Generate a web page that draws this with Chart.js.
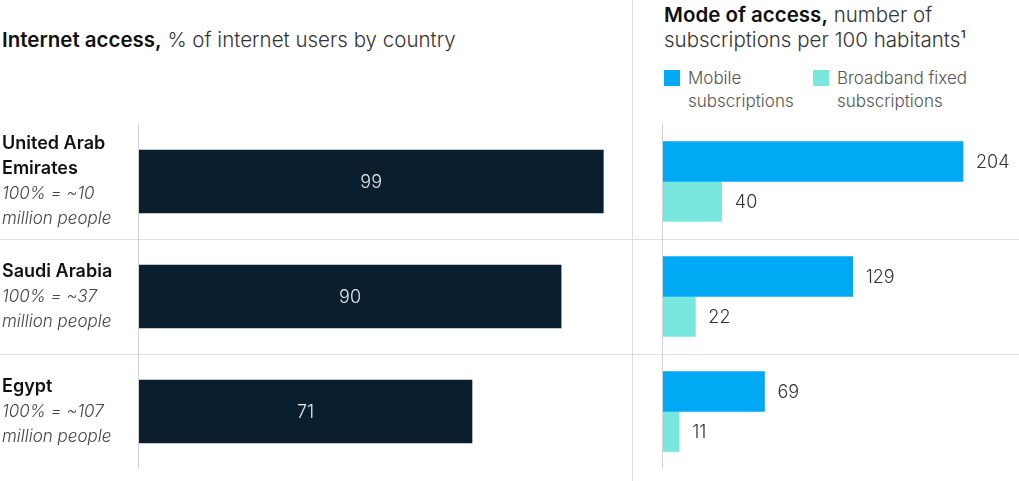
<!DOCTYPE html>
<html>
<head>
<meta charset="utf-8">
<script src="https://cdn.jsdelivr.net/npm/chart.js@4.4.1/dist/chart.umd.min.js"></script>
<style>
  html, body { margin: 0; padding: 0; background: #fff; }
  body {
    width: 1019px; height: 481px; position: relative; overflow: hidden;
    font-family: Inter, "Liberation Sans", Arial, sans-serif; color: #333;
  }
  .title { position: absolute; font-size: 20.5px; line-height: 25px; color: #333; white-space: nowrap; font-weight: 300; }
  .title b { color: #111; font-weight: 600; }
  #titleLeft { left: 2px; top: 27px; }
  #titleRight { left: 664px; top: 2px; }
  .divider { position: absolute; left: 632px; top: 0; width: 1px; height: 481px; background: #dcdcdc; }
  .legend { position: absolute; top: 67px; font-size: 17px; line-height: 23px; color: #555; font-weight: 300; white-space: nowrap; }
  .legend span.sw { position: absolute; left: 0; top: 3px; width: 16px; height: 16px; }
  .legend div { padding-left: 24px; }
  canvas { position: absolute; top: 124px; }
  #chartLeft { left: 0; }
  #chartRight { left: 633px; }
</style>
</head>
<body>
<div class="title" id="titleLeft"><b>Internet access,</b> % of internet users by country</div>
<div class="title" id="titleRight"><b>Mode of access,</b> number of<br>subscriptions per 100 habitants¹</div>
<div class="divider"></div>
<div id="legend"></div>
<canvas id="chartLeft" width="633" height="346"></canvas>
<canvas id="chartRight" width="386" height="346"></canvas>
<script>
(function () {
  const countryNames = [["United Arab", "Emirates"], ["Saudi Arabia"], ["Egypt"]];
  const populationNotes = ["~10", "~37", "~107"];
  const internetShare = [99, 90, 71];
  const mobileSubs = [204, 129, 69];
  const broadbandSubs = [40, 22, 11];
  const seriesNames = [["Mobile", "subscriptions"], ["Broadband fixed", "subscriptions"]];
  const seriesColors = ["#00a9f4", "#78e8df"];

  const lineColor = "#dedede";
  const axisColor = "#d2d2d2";
  const font = 'Inter, "Liberation Sans", Arial, sans-serif';

  // legend (html)
  const legendEl = document.getElementById("legend");
  const legendLeft = [664, 813];
  seriesNames.forEach((lines, i) => {
    const item = document.createElement("div");
    item.className = "legend";
    item.style.left = legendLeft[i] + "px";
    item.innerHTML = '<span class="sw" style="background:' + seriesColors[i] + '"></span><div>' + lines.join("<br>") + "</div>";
    legendEl.appendChild(item);
  });

  // row separators + axis line
  const rowLines = {
    id: "rowLines",
    beforeDatasetsDraw(chart) {
      const { ctx, chartArea } = chart;
      const y = chart.scales.y;
      ctx.save();
      ctx.strokeStyle = lineColor;
      ctx.lineWidth = 1;
      for (let i = 0; i < y.ticks.length - 1; i++) {
        const py = Math.round((y.getPixelForValue(i) + y.getPixelForValue(i + 1)) / 2) + 0.5;
        ctx.beginPath();
        ctx.moveTo(0, py);
        ctx.lineTo(chart.width, py);
        ctx.stroke();
      }
      ctx.strokeStyle = axisColor;
      ctx.beginPath();
      ctx.moveTo(chartArea.left - 0.5, chartArea.top);
      ctx.lineTo(chartArea.left - 0.5, chartArea.bottom);
      ctx.stroke();
      ctx.restore();
    },
  };

  // country labels on the left
  const countryLabels = {
    id: "countryLabels",
    afterDatasetsDraw(chart) {
      const { ctx } = chart;
      const y = chart.scales.y;
      ctx.save();
      ctx.textBaseline = "middle";
      ctx.textAlign = "left";
      countryNames.forEach((nameLines, i) => {
        const lines = nameLines.map((t) => ({ t, bold: true }))
          .concat([{ t: "100% = " + populationNotes[i], bold: false }, { t: "million people", bold: false }]);
        const cy = y.getPixelForValue(i);
        lines.forEach((ln, k) => {
          const py = cy + (k - (lines.length - 1) / 2) * 25;
          ctx.font = ln.bold ? "600 18px " + font : "italic 300 17px " + font;
          ctx.fillStyle = ln.bold ? "#111" : "#444";
          ctx.fillText(ln.t, 2, py);
        });
      });
      ctx.restore();
    },
  };

  // value labels
  const valueLabels = {
    id: "valueLabels",
    afterDatasetsDraw(chart, args, opts) {
      const { ctx } = chart;
      ctx.save();
      ctx.font = "300 18px " + font;
      ctx.textBaseline = "middle";
      chart.data.datasets.forEach((ds, di) => {
        chart.getDatasetMeta(di).data.forEach((bar, i) => {
          const v = ds.data[i];
          if (opts.inside) {
            ctx.textAlign = "center";
            ctx.fillStyle = "#e3e8ec";
            ctx.fillText(String(v), (bar.x + bar.base) / 2, bar.y + 1);
          } else {
            ctx.textAlign = "left";
            ctx.fillStyle = "#333";
            ctx.fillText(String(v), bar.x + 13, bar.y + 1);
          }
        });
      });
      ctx.restore();
    },
  };

  const labels = countryNames.map((l) => l.join(" "));

  new Chart(document.getElementById("chartLeft"), {
    type: "bar",
    data: {
      labels,
      datasets: [{ data: internetShare, backgroundColor: "#0b1e2d", barThickness: 63 }],
    },
    options: {
      indexAxis: "y",
      responsive: false,
      animation: false,
      layout: { padding: { left: 139, right: 25, top: 0, bottom: 1 } },
      plugins: { legend: { display: false }, tooltip: { enabled: false }, valueLabels: { inside: true } },
      scales: {
        x: { min: 0, max: 100, display: false },
        y: { display: false },
      },
    },
    plugins: [rowLines, countryLabels, valueLabels],
  });

  new Chart(document.getElementById("chartRight"), {
    type: "bar",
    data: {
      labels,
      datasets: [
        { label: seriesNames[0].join(" "), data: mobileSubs, backgroundColor: seriesColors[0], barThickness: 40 },
        { label: seriesNames[1].join(" "), data: broadbandSubs, backgroundColor: seriesColors[1], barThickness: 40 },
      ],
    },
    options: {
      indexAxis: "y",
      responsive: false,
      animation: false,
      layout: { padding: { left: 30, right: 3, top: 0, bottom: 1 } },
      plugins: { legend: { display: false }, tooltip: { enabled: false }, valueLabels: { inside: false } },
      scales: {
        x: { min: 0, max: 240, display: false },
        y: { display: false },
      },
    },
    plugins: [rowLines, valueLabels],
  });
})();
</script>
</body>
</html>
